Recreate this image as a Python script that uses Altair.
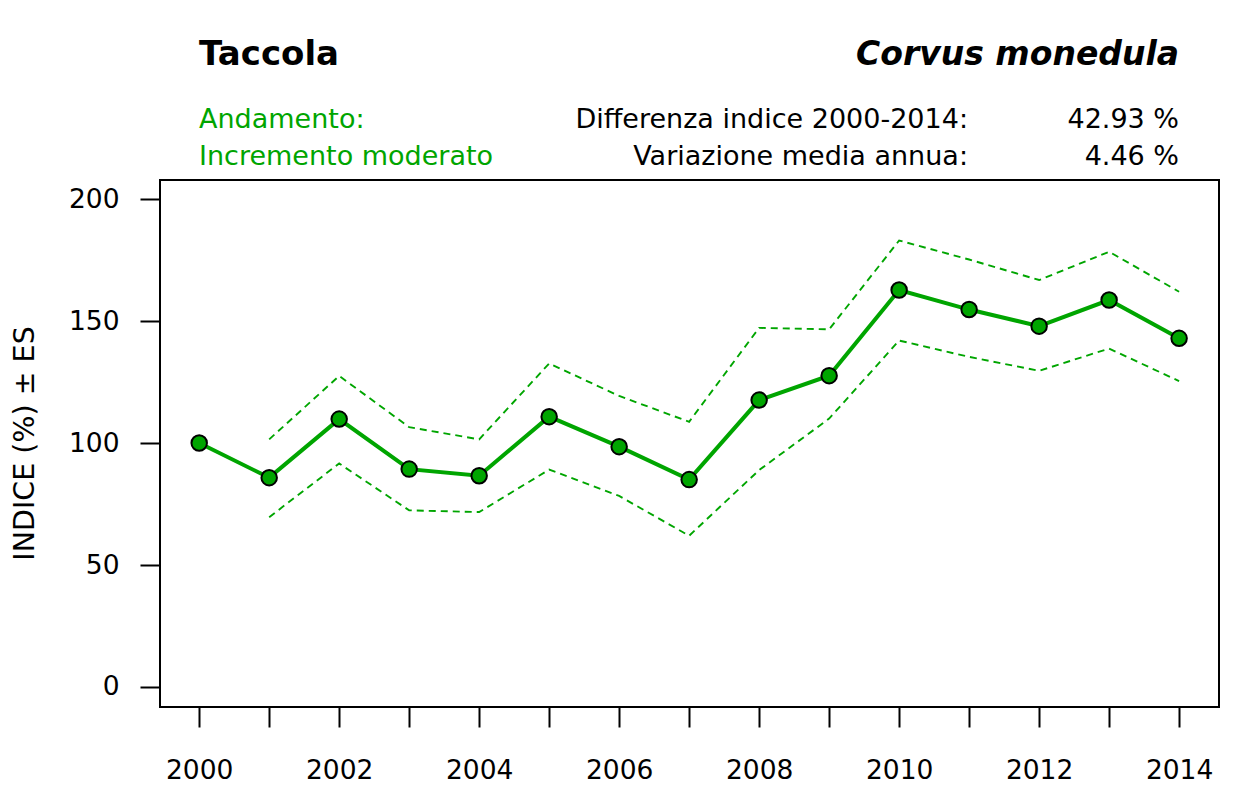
import altair as alt
import pandas as pd

years = list(range(2000, 2015))
index_vals = [100.0, 85.8, 109.8, 89.3, 86.6, 110.8, 98.5, 85.0, 117.6, 127.6, 162.7, 154.7, 147.9, 158.6, 142.9]
upper_vals = [None, 101.5, 127.5, 106.5, 101.5, 132.6, 119.3, 108.7, 147.2, 146.6, 183.0, 175.2, 166.8, 178.4, 162.0]
lower_vals = [None, 69.6, 91.6, 72.4, 71.7, 89.1, 78.3, 62.0, 88.9, 110.0, 142.0, 135.3, 129.6, 138.7, 125.4]

title_left = "Taccola"
title_right = "Corvus monedula"
trend_label = "Andamento:"
trend_value = "Incremento moderato"
stat_labels = ["Differenza indice 2000-2014:", "Variazione media annua:"]
stat_values = ["42.93 %", "4.46 %"]
y_title = "INDICE (%) ± ES"

GREEN = "#00A500"
FONT = "DejaVu Sans"

main_df = pd.DataFrame({"year": years, "value": index_vals})
up_df = pd.DataFrame({"year": years, "value": upper_vals}).dropna()
lo_df = pd.DataFrame({"year": years, "value": lower_vals}).dropna()

x_scale = alt.Scale(domain=[1999.44, 2014.57], nice=False, zero=False)
y_scale = alt.Scale(domain=[-8.2, 207.8], nice=False, zero=False)

x_axis = alt.Axis(
    values=years, format="d", title=None, grid=False, domain=False,
    tickSize=20, tickWidth=2, tickColor="black",
    labelFontSize=26.5, labelFont=FONT, labelColor="black", labelPadding=30,
    labelExpr="datum.value % 2 == 0 ? datum.label : ''", labelFlush=False,
    labelOverlap=False,
)
y_axis = alt.Axis(
    values=[0, 50, 100, 150, 200], title=None, grid=False, domain=False,
    tickSize=20, tickWidth=2, tickColor="black",
    labelFontSize=26.5, labelFont=FONT, labelColor="black", labelPadding=21,
    labelFlush=False,
)

X = alt.X("year:Q", scale=x_scale, axis=x_axis)
Y = alt.Y("value:Q", scale=y_scale, axis=y_axis)

upper = alt.Chart(up_df).mark_line(color=GREEN, strokeWidth=1.9, strokeDash=[7, 5]).encode(x=X, y=Y)
lower = alt.Chart(lo_df).mark_line(color=GREEN, strokeWidth=1.9, strokeDash=[7, 5]).encode(x=X, y=Y)
line = alt.Chart(main_df).mark_line(color=GREEN, strokeWidth=4).encode(x=X, y=Y)
points = alt.Chart(main_df).mark_point(
    shape="circle", filled=True, fill=GREEN, stroke="black", strokeWidth=2, size=240, opacity=1
).encode(x=X, y=Y)


def txt(s, x, y, align="left", size=27, weight="normal", style="normal", color="black", angle=0, baseline="alphabetic"):
    return alt.Chart(pd.DataFrame({"t": [s]})).mark_text(
        align=align, baseline=baseline, font=FONT, fontSize=size, fontWeight=weight,
        fontStyle=style, color=color, angle=angle,
    ).encode(text="t:N", x=alt.value(x), y=alt.value(y))


texts = [
    txt(title_left, 39, -115, size=34, weight="bold"),
    txt(title_right, 1019, -115, align="right", size=33, weight="bold", style="italic"),
    txt(trend_label, 39, -52, color=GREEN),
    txt(trend_value, 39, -15, color=GREEN),
    txt(stat_labels[0], 808, -52, align="right"),
    txt(stat_labels[1], 808, -15, align="right"),
    txt(stat_values[0], 1019, -52, align="right"),
    txt(stat_values[1], 1019, -15, align="right"),
    txt(y_title, -135, 263.5, align="center", size=28.5, angle=270, baseline="middle"),
]

chart = alt.layer(upper, lower, line, points, *texts).properties(
    width=1059, height=527,
    padding={"left": 152, "top": 172, "right": 30, "bottom": 78},
    autosize=alt.AutoSizeParams(type="none"),
).configure(background="white").configure_view(stroke="black", strokeWidth=2)

chart.save("out.html", embed_options={"renderer": "svg", "actions": False})
